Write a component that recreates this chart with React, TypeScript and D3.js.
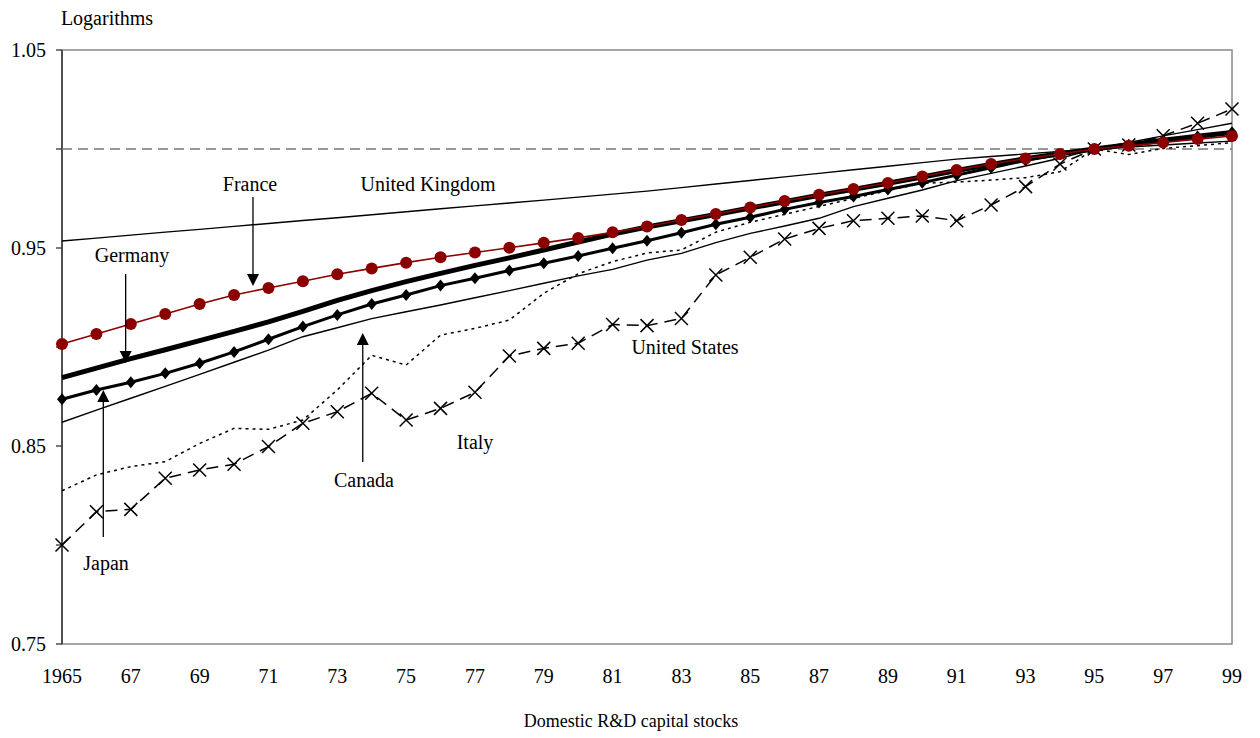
import React from "react";
import * as d3 from "d3";

// années et séries (logarithmes, 1995 = 1)
const years = [
  1965, 1966, 1967, 1968, 1969, 1970, 1971, 1972, 1973, 1974, 1975, 1976,
  1977, 1978, 1979, 1980, 1981, 1982, 1983, 1984, 1985, 1986, 1987, 1988,
  1989, 1990, 1991, 1992, 1993, 1994, 1995, 1996, 1997, 1998, 1999,
];

const unitedKingdom = [
  0.9535, 0.955, 0.9565, 0.958, 0.9594, 0.9609, 0.9624, 0.9639, 0.9653,
  0.9668, 0.9683, 0.9698, 0.9713, 0.9727, 0.9742, 0.9757, 0.9772, 0.9787,
  0.9805, 0.9823, 0.9841, 0.9859, 0.9877, 0.9895, 0.9913, 0.9931, 0.9949,
  0.9962, 0.9975, 0.9988, 1.0, 1.001, 1.002, 1.003, 1.004,
];

const france = [
  0.9015, 0.9066, 0.9116, 0.9167, 0.9217, 0.9263, 0.9298, 0.9332, 0.9367,
  0.9397, 0.9426, 0.9453, 0.9477, 0.9501, 0.9526, 0.9551, 0.9579, 0.9609,
  0.9641, 0.9672, 0.9705, 0.9737, 0.9769, 0.9798, 0.9828, 0.9861, 0.9894,
  0.9924, 0.9952, 0.9975, 1.0, 1.0016, 1.0033, 1.005, 1.0066,
];

const germany = [
  0.8845, 0.8893, 0.8941, 0.8986, 0.9032, 0.9079, 0.9127, 0.918, 0.9235,
  0.9285, 0.933, 0.9372, 0.9412, 0.945, 0.949, 0.953, 0.957, 0.9606,
  0.9638, 0.9669, 0.9702, 0.9734, 0.9766, 0.9796, 0.9827, 0.9859, 0.9891,
  0.9922, 0.9951, 0.9976, 1.0, 1.0022, 1.0044, 1.0064, 1.0083,
];

// ligne à losanges (flèche "Japan")
const japan = [
  0.8736, 0.8783, 0.8822, 0.8867, 0.8918, 0.8975, 0.9039, 0.9103, 0.9162,
  0.9217, 0.9263, 0.931, 0.9347, 0.9386, 0.9423, 0.946, 0.9499, 0.9537,
  0.9577, 0.962, 0.9655, 0.9695, 0.973, 0.976, 0.9795, 0.983, 0.9868,
  0.9905, 0.9942, 0.9973, 1.0, 1.0021, 1.0042, 1.0063, 1.0085,
];

// ligne fine du bas (flèche "Canada")
const canada = [
  0.862, 0.8681, 0.8741, 0.8801, 0.8862, 0.8923, 0.8984, 0.9052, 0.9097,
  0.9143, 0.9178, 0.9212, 0.9249, 0.9285, 0.9322, 0.9359, 0.9392, 0.9439,
  0.9473, 0.9527, 0.9574, 0.9611, 0.965, 0.9709, 0.9751, 0.9793, 0.984,
  0.9877, 0.9914, 0.9953, 1.0, 1.0033, 1.0066, 1.0098, 1.013,
];

// pointillés
const unitedStates = [
  0.8274, 0.8354, 0.8396, 0.8421, 0.8513, 0.8589, 0.8584, 0.8631, 0.8783,
  0.8958, 0.8909, 0.906, 0.9094, 0.9136, 0.9271, 0.937, 0.9431, 0.9475,
  0.949, 0.958, 0.963, 0.967, 0.971, 0.975, 0.979, 0.9827, 0.9833, 0.9843,
  0.9855, 0.9885, 1.0, 0.9972, 1.0003, 1.0017, 1.0032,
];

// tirets avec croix
const italy = [
  0.8, 0.8168, 0.818, 0.8337, 0.8379, 0.8408, 0.8497, 0.8615, 0.8673,
  0.8766, 0.8631, 0.869, 0.8771, 0.8955, 0.8993, 0.9019, 0.9114, 0.9108,
  0.9144, 0.9364, 0.9453, 0.9545, 0.9599, 0.9638, 0.965, 0.9662, 0.9638,
  0.9717, 0.981, 0.9924, 1.0, 1.002, 1.0067, 1.013, 1.0202,
];

const xTickYears = [
  1965, 1967, 1969, 1971, 1973, 1975, 1977, 1979, 1981, 1983, 1985, 1987,
  1989, 1991, 1993, 1995, 1997, 1999,
];
const xTickLabels = [
  "1965", "67", "69", "71", "73", "75", "77", "79", "81", "83", "85", "87",
  "89", "91", "93", "95", "97", "99",
];
const yTicks = [0.75, 0.8, 0.85, 0.9, 0.95, 1.0, 1.05];
const yTickLabels = ["0.75", "", "0.85", "", "0.95", "", "1.05"];

const W = 1260;
const H = 738;
const left = 62;
const right = 1232;
const top = 50;
const bottom = 644;
const RED = "#8b0000";
const FONT = "Liberation Serif, Times New Roman, serif";

export default function App() {
  const x = d3.scaleLinear().domain([1965, 1999]).range([left, right]);
  const y = d3.scaleLinear().domain([0.75, 1.05]).range([bottom, top]);

  const line = (vals: number[]) =>
    d3
      .line<number>()
      .x((_, i) => x(years[i]))
      .y((d) => y(d))(vals) as string;

  // flèche verticale: de y1 vers la pointe y2
  const arrow = (xv: number, y1: number, y2: number) => {
    const dir = y2 > y1 ? 1 : -1;
    const base = y2 - dir * 12;
    return (
      <g>
        <line x1={xv} x2={xv} y1={y1} y2={base} stroke="#000" strokeWidth={1.3} />
        <path d={`M${xv - 6},${base} L${xv + 6},${base} L${xv},${y2} Z`} fill="#000" />
      </g>
    );
  };

  const diamond = "M0,-6 L5,0 L0,6 L-5,0 Z";

  return (
    <svg
      width={W}
      height={H}
      style={{ position: "absolute", left: 0, top: 0, background: "#fff" }}
      fontFamily={FONT}
      fontSize={20}
    >
      <text x={107} y={25} textAnchor="middle">Logarithms</text>

      {/* cadre */}
      <rect x={left} y={top} width={right - left} height={bottom - top} fill="none" stroke="#888" strokeWidth={1.5} />
      <line x1={left} x2={left} y1={top} y2={bottom} stroke="#333" strokeWidth={1.5} />

      {yTicks.map((t, i) => (
        <g key={t}>
          <line x1={left - 6} x2={left} y1={y(t)} y2={y(t)} stroke="#333" strokeWidth={1.3} />
          {yTickLabels[i] && (
            <text x={46} y={y(t) + 7} textAnchor="end">{yTickLabels[i]}</text>
          )}
        </g>
      ))}

      {xTickYears.map((t, i) => (
        <text key={t} x={x(t)} y={683} textAnchor="middle">{xTickLabels[i]}</text>
      ))}

      <text x={631} y={727} textAnchor="middle" fontSize={18}>Domestic R&amp;D capital stocks</text>

      {/* ligne de référence 1.00 */}
      <line x1={left} x2={right} y1={y(1)} y2={y(1)} stroke="#777" strokeWidth={1.3} strokeDasharray="10,6" />

      <path d={line(unitedKingdom)} fill="none" stroke="#000" strokeWidth={1.4} />
      <path d={line(canada)} fill="none" stroke="#000" strokeWidth={1.4} />
      <path d={line(unitedStates)} fill="none" stroke="#000" strokeWidth={1.5} strokeDasharray="3,4" />

      <path d={line(italy)} fill="none" stroke="#000" strokeWidth={1.5} strokeDasharray="12,7" />
      {italy.map((v, i) => (
        <path
          key={i}
          transform={`translate(${x(years[i])},${y(v)})`}
          d="M-6.5,-6.5 L6.5,6.5 M-6.5,6.5 L6.5,-6.5"
          stroke="#000"
          strokeWidth={1.5}
        />
      ))}

      <path d={line(germany)} fill="none" stroke="#000" strokeWidth={5} strokeLinejoin="round" />

      <path d={line(japan)} fill="none" stroke="#000" strokeWidth={3} />
      {japan.map((v, i) => (
        <path key={i} transform={`translate(${x(years[i])},${y(v)})`} d={diamond} fill="#000" />
      ))}

      <path d={line(france)} fill="none" stroke={RED} strokeWidth={1.6} />
      {france.map((v, i) => (
        <circle key={i} cx={x(years[i])} cy={y(v)} r={6} fill={RED} />
      ))}

      {/* annotations */}
      <text x={250} y={191} textAnchor="middle">France</text>
      {arrow(x(1970.55), 197, 286)}
      <text x={428} y={191} textAnchor="middle">United Kingdom</text>
      <text x={132} y={262} textAnchor="middle">Germany</text>
      {arrow(x(1966.85), 274, 363)}
      <text x={106} y={570} textAnchor="middle">Japan</text>
      {arrow(x(1966.2), 537, 390)}
      <text x={364} y={487} textAnchor="middle">Canada</text>
      {arrow(x(1973.74), 462, 333)}
      <text x={475} y={449} textAnchor="middle">Italy</text>
      <text x={685} y={354} textAnchor="middle">United States</text>
    </svg>
  );
}
